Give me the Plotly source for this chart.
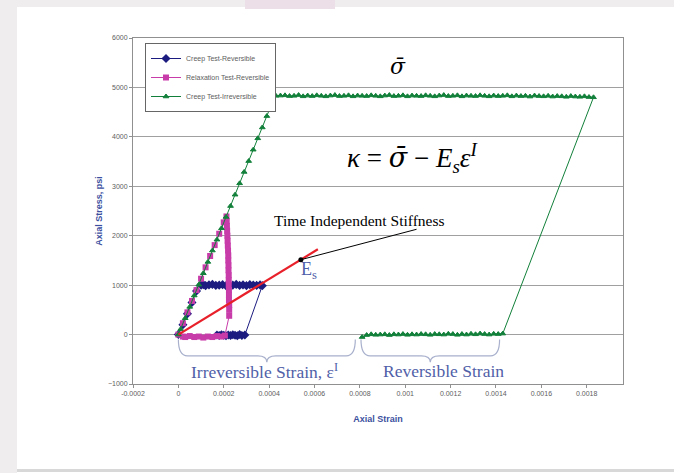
import plotly.graph_objects as go

# ---------------- data ----------------
creep_rev_x = [0, 0.00002, 0.00004, 0.00006, 0.00008, 0.0001,
               0.00011, 0.00012, 0.000135, 0.00015, 0.000165, 0.00018, 0.000195, 0.00021,
               0.000225, 0.00024, 0.000255, 0.00027, 0.000285, 0.0003, 0.000315, 0.00033,
               0.000345, 0.00036, 0.00037,
               0.000293, 0.00028, 0.00027, 0.00026, 0.00025, 0.00024, 0.00023, 0.00022,
               0.00021, 0.0002, 0.00019, 0.00018, 0.00017]
creep_rev_y = [0, 200, 420, 650, 880, 1000,
               1010, 990, 1005, 1015, 995, 1000, 1010, 990, 1005, 1000, 1015, 995,
               1005, 990, 1010, 1000, 995, 1005, 990,
               -10, -20, 0, -25, -15, -5, -20, -10, -25, -15, -5, -20, -10]

relax_rev_x = [0, 0.00002, 0.00004, 0.00006, 0.00008, 0.0001, 0.00012, 0.00014, 0.00016,
               0.00018, 0.0002, 0.000212,
               0.000213, 0.000214, 0.000215, 0.000216, 0.000217, 0.000218, 0.000219, 0.00022,
               0.00022, 0.000221, 0.000221, 0.000222, 0.000222, 0.000222, 0.000223, 0.000223,
               0.000223, 0.000224, 0.000224, 0.000224,
               0.000205, 0.00019, 0.00017, 0.00015, 0.00013, 0.00011, 0.00009, 0.00007,
               0.00005, 0.00003, 0.00002]
relax_rev_y = [0, 230, 450, 680, 900, 1130, 1360, 1590, 1810, 2040, 2270, 2390,
               2300, 2200, 2100, 2000, 1900, 1800, 1700, 1600, 1500, 1400, 1300, 1200,
               1100, 1000, 900, 800, 700, 600, 500, 380,
               -20, -40, -30, -50, -40, -60, -40, -50, -30, -50, -40]

creep_irr_x = [0, 0.00001, 0.00003, 0.00005, 0.00007, 0.00009, 0.00011, 0.00013, 0.00015,
               0.00017, 0.00019, 0.00021, 0.00023, 0.00025, 0.00027, 0.00029, 0.00031,
               0.00033, 0.00035, 0.00037, 0.00039, 0.00041, 0.00043,
               0.00045, 0.00047, 0.00049, 0.00051, 0.00053, 0.00055, 0.00057, 0.00059, 0.00061, 0.00063,
               0.00065, 0.00067, 0.00069, 0.00071, 0.00073, 0.00075, 0.00077, 0.00079, 0.00081, 0.00083,
               0.00085, 0.00087, 0.00089, 0.00091, 0.00093, 0.00095, 0.00097, 0.00099, 0.00101, 0.00103,
               0.00105, 0.00107, 0.00109, 0.00111, 0.00113, 0.00115, 0.00117, 0.00119, 0.00121, 0.00123,
               0.00125, 0.00127, 0.00129, 0.00131, 0.00133, 0.00135, 0.00137, 0.00139, 0.00141, 0.00143,
               0.00145, 0.00147, 0.00149, 0.00151, 0.00153, 0.00155, 0.00157, 0.00159, 0.00161, 0.00163,
               0.00165, 0.00167, 0.00169, 0.00171, 0.00173, 0.00175, 0.00177, 0.00179, 0.00181, 0.00183,
               0.00143, 0.00141, 0.00139, 0.00137, 0.00135, 0.00133, 0.00131, 0.00129, 0.00127, 0.00125,
               0.00123, 0.00121, 0.00119, 0.00117, 0.00115, 0.00113, 0.00111, 0.00109, 0.00107, 0.00105,
               0.00103, 0.00101, 0.00099, 0.00097, 0.00095, 0.00093, 0.00091, 0.00089, 0.00087, 0.00085,
               0.00083, 0.00081]
creep_irr_y = [0, 110, 330, 560, 790, 1010, 1240, 1470, 1700, 1920, 2150, 2380, 2600,
               2830, 3060, 3290, 3510, 3740, 3970, 4190, 4420, 4650, 4830,
               4835, 4840, 4825, 4830, 4845, 4820, 4835, 4825, 4840, 4830,
               4820, 4835, 4845, 4825, 4830, 4840, 4820, 4835, 4830, 4825,
               4840, 4830, 4820, 4835, 4845, 4825, 4830, 4840, 4820, 4835,
               4830, 4825, 4840, 4830, 4820, 4835, 4845, 4825, 4830, 4840,
               4820, 4835, 4830, 4825, 4840, 4830, 4820, 4835, 4825, 4830,
               4840, 4820, 4835, 4825, 4830, 4815, 4835, 4825, 4820, 4830,
               4815, 4825, 4820, 4810, 4825, 4815, 4810, 4820, 4805, 4800,
               20, 10, 15, 0, 10, 20, 5, 15, 0, 10,
               -5, 10, 15, 0, 5, 10, -5, 5, 10, 0,
               5, -5, 10, 0, 5, -10, 5, 0, -5, 5,
               -10, -50]

stiffness_x = [0, 0.000615]
stiffness_y = [0, 1726]
es_point_x = [0.00054]
es_point_y = [1515]

x_tick_vals = [-0.0002, 0, 0.0002, 0.0004, 0.0006, 0.0008, 0.001, 0.0012, 0.0014, 0.0016, 0.0018]
x_tick_text = ["-0.0002", "0", "0.0002", "0.0004", "0.0006", "0.0008", "0.001",
               "0.0012", "0.0014", "0.0016", "0.0018"]
y_tick_vals = [-1000, 0, 1000, 2000, 3000, 4000, 5000, 6000]

# ---------------- figure ----------------
NAVY = "#1c1c80"
MAGENTA = "#c83caa"
GREEN = "#12803a"
TEXTBLUE = "#5060a8"
SERIF = "Liberation Serif, Times New Roman, serif"
DJS = "DejaVu Serif"

fig = go.Figure()
fig.add_trace(go.Scatter(x=creep_rev_x, y=creep_rev_y, mode="lines+markers",
                         name="Creep Test-Reversible",
                         line=dict(color=NAVY, width=1),
                         marker=dict(symbol="diamond", size=7, color=NAVY)))
fig.add_trace(go.Scatter(x=relax_rev_x, y=relax_rev_y, mode="lines+markers",
                         name="Relaxation Test-Reversible",
                         line=dict(color=MAGENTA, width=1),
                         marker=dict(symbol="square", size=6, color=MAGENTA)))
fig.add_trace(go.Scatter(x=creep_irr_x, y=creep_irr_y, mode="lines+markers",
                         name="Creep Test-Irreversible",
                         line=dict(color=GREEN, width=1),
                         marker=dict(symbol="triangle-up", size=5, color=GREEN,
                                     line=dict(color=GREEN, width=1))))
fig.add_trace(go.Scatter(x=stiffness_x, y=stiffness_y, mode="lines", showlegend=False,
                         line=dict(color="#e8202a", width=2.2)))
fig.add_trace(go.Scatter(x=es_point_x, y=es_point_y, mode="markers", showlegend=False,
                         marker=dict(color="black", size=5)))

# leader line from E_s point to label
fig.add_shape(type="line", xref="x", yref="y", x0=es_point_x[0], y0=es_point_y[0],
              x1=0.00105, y1=2130, line=dict(color="black", width=1))

# braces
def brace(x0, x1, ytop, ymid, ytip, dx):
    m = (x0 + x1) / 2
    return (f"M {x0},{ytop} Q {x0},{ymid} {x0+dx},{ymid} L {m-dx},{ymid} "
            f"Q {m},{ymid} {m},{ytip} Q {m},{ymid} {m+dx},{ymid} L {x1-dx},{ymid} "
            f"Q {x1},{ymid} {x1},{ytop}")

for bx0, bx1 in [(0.0, 0.00078), (0.000805, 0.001416)]:
    fig.add_shape(type="path", xref="x", yref="y",
                  path=brace(bx0, bx1, -100, -430, -560, 0.00004),
                  line=dict(color="#a8b0cc", width=1.2))

# outer frame decorations (paper-relative, outside the plot area)
def px_x(p):
    return (p - 133) / 490

def px_y(p):
    return (384 - p) / 346

fig.add_shape(type="rect", xref="paper", yref="paper", x0=px_x(-5), x1=px_x(17),
              y0=px_y(480), y1=px_y(-5), fillcolor="#efeded", line_width=0, layer="below")
fig.add_shape(type="rect", xref="paper", yref="paper", x0=px_x(-5), x1=px_x(680),
              y0=px_y(7), y1=px_y(-5), fillcolor="#efeded", line_width=0, layer="below")
fig.add_shape(type="rect", xref="paper", yref="paper", x0=px_x(245), x1=px_x(335),
              y0=px_y(9), y1=px_y(-5), fillcolor="#ecdfe7", line_width=0, layer="below")
fig.add_shape(type="rect", xref="paper", yref="paper", x0=px_x(17), x1=px_x(680),
              y0=px_y(472), y1=px_y(469), fillcolor="#d8d8d8", line_width=0, layer="below")

annos = [
    dict(x=0.000967, y=5420, text="<i>σ̄</i>", font=dict(family=DJS, size=22, color="black")),
    dict(x=0.00103, y=3580,
         text="<i>κ</i> = <span style='font-family:DejaVu Serif'><i>σ̄</i></span> − <i>E<sub>s</sub>ε<sup>I</sup></i>",
         font=dict(family=SERIF, size=27, color="black")),
    dict(x=0.00080, y=2300, text="Time Independent Stiffness",
         font=dict(family=SERIF, size=15.5, color="black")),
    dict(x=0.000575, y=1300, text="E<sub>s</sub>", font=dict(family=SERIF, size=18, color=TEXTBLUE)),
    dict(x=0.00038, y=-740, text="Irreversible Strain, ε<sup>I</sup>",
         font=dict(family=SERIF, size=17.5, color=TEXTBLUE)),
    dict(x=0.00117, y=-730, text="Reversible Strain", font=dict(family=SERIF, size=17.5, color=TEXTBLUE)),
]
for a in annos:
    fig.add_annotation(xref="x", yref="y", showarrow=False, **a)

AX_FONT = dict(family="Liberation Sans, Arial, sans-serif", size=7, color="#606060")
fig.update_layout(
    width=674, height=473,
    margin=dict(l=133, r=51, t=38, b=89),
    paper_bgcolor="white", plot_bgcolor="white",
    showlegend=True,
    legend=dict(x=px_x(145), y=px_y(43), xanchor="left", yanchor="top",
                bgcolor="white", bordercolor="#666666", borderwidth=1,
                font=dict(family="Liberation Sans, Arial, sans-serif", size=7, color="#606060"),
                tracegroupgap=0, itemwidth=30),
    xaxis=dict(range=[-0.0002, 0.00196], tickvals=x_tick_vals, ticktext=x_tick_text,
               showgrid=False, zeroline=False, showline=True, linecolor="#909090",
               mirror=True, ticks="outside", ticklen=3, tickcolor="#909090",
               tickfont=AX_FONT,
               title=dict(text="<b>Axial Strain</b>", standoff=19,
                          font=dict(family="Liberation Sans, Arial, sans-serif", size=9, color="#3c50a0"))),
    yaxis=dict(range=[-1000, 6000], tickvals=y_tick_vals,
               showgrid=True, gridcolor="#a0a0a0", gridwidth=1, zeroline=False,
               showline=True, linecolor="#909090", mirror=True,
               ticks="outside", ticklen=3, tickcolor="#909090", tickfont=AX_FONT,
               title=dict(text="<b>Axial Stress, psi</b>", standoff=3,
                          font=dict(family="Liberation Sans, Arial, sans-serif", size=9, color="#3c50a0"))),
)

fig.write_html("out.html", config={"displayModeBar": False},
               post_script="document.body.style.margin='0px';")
